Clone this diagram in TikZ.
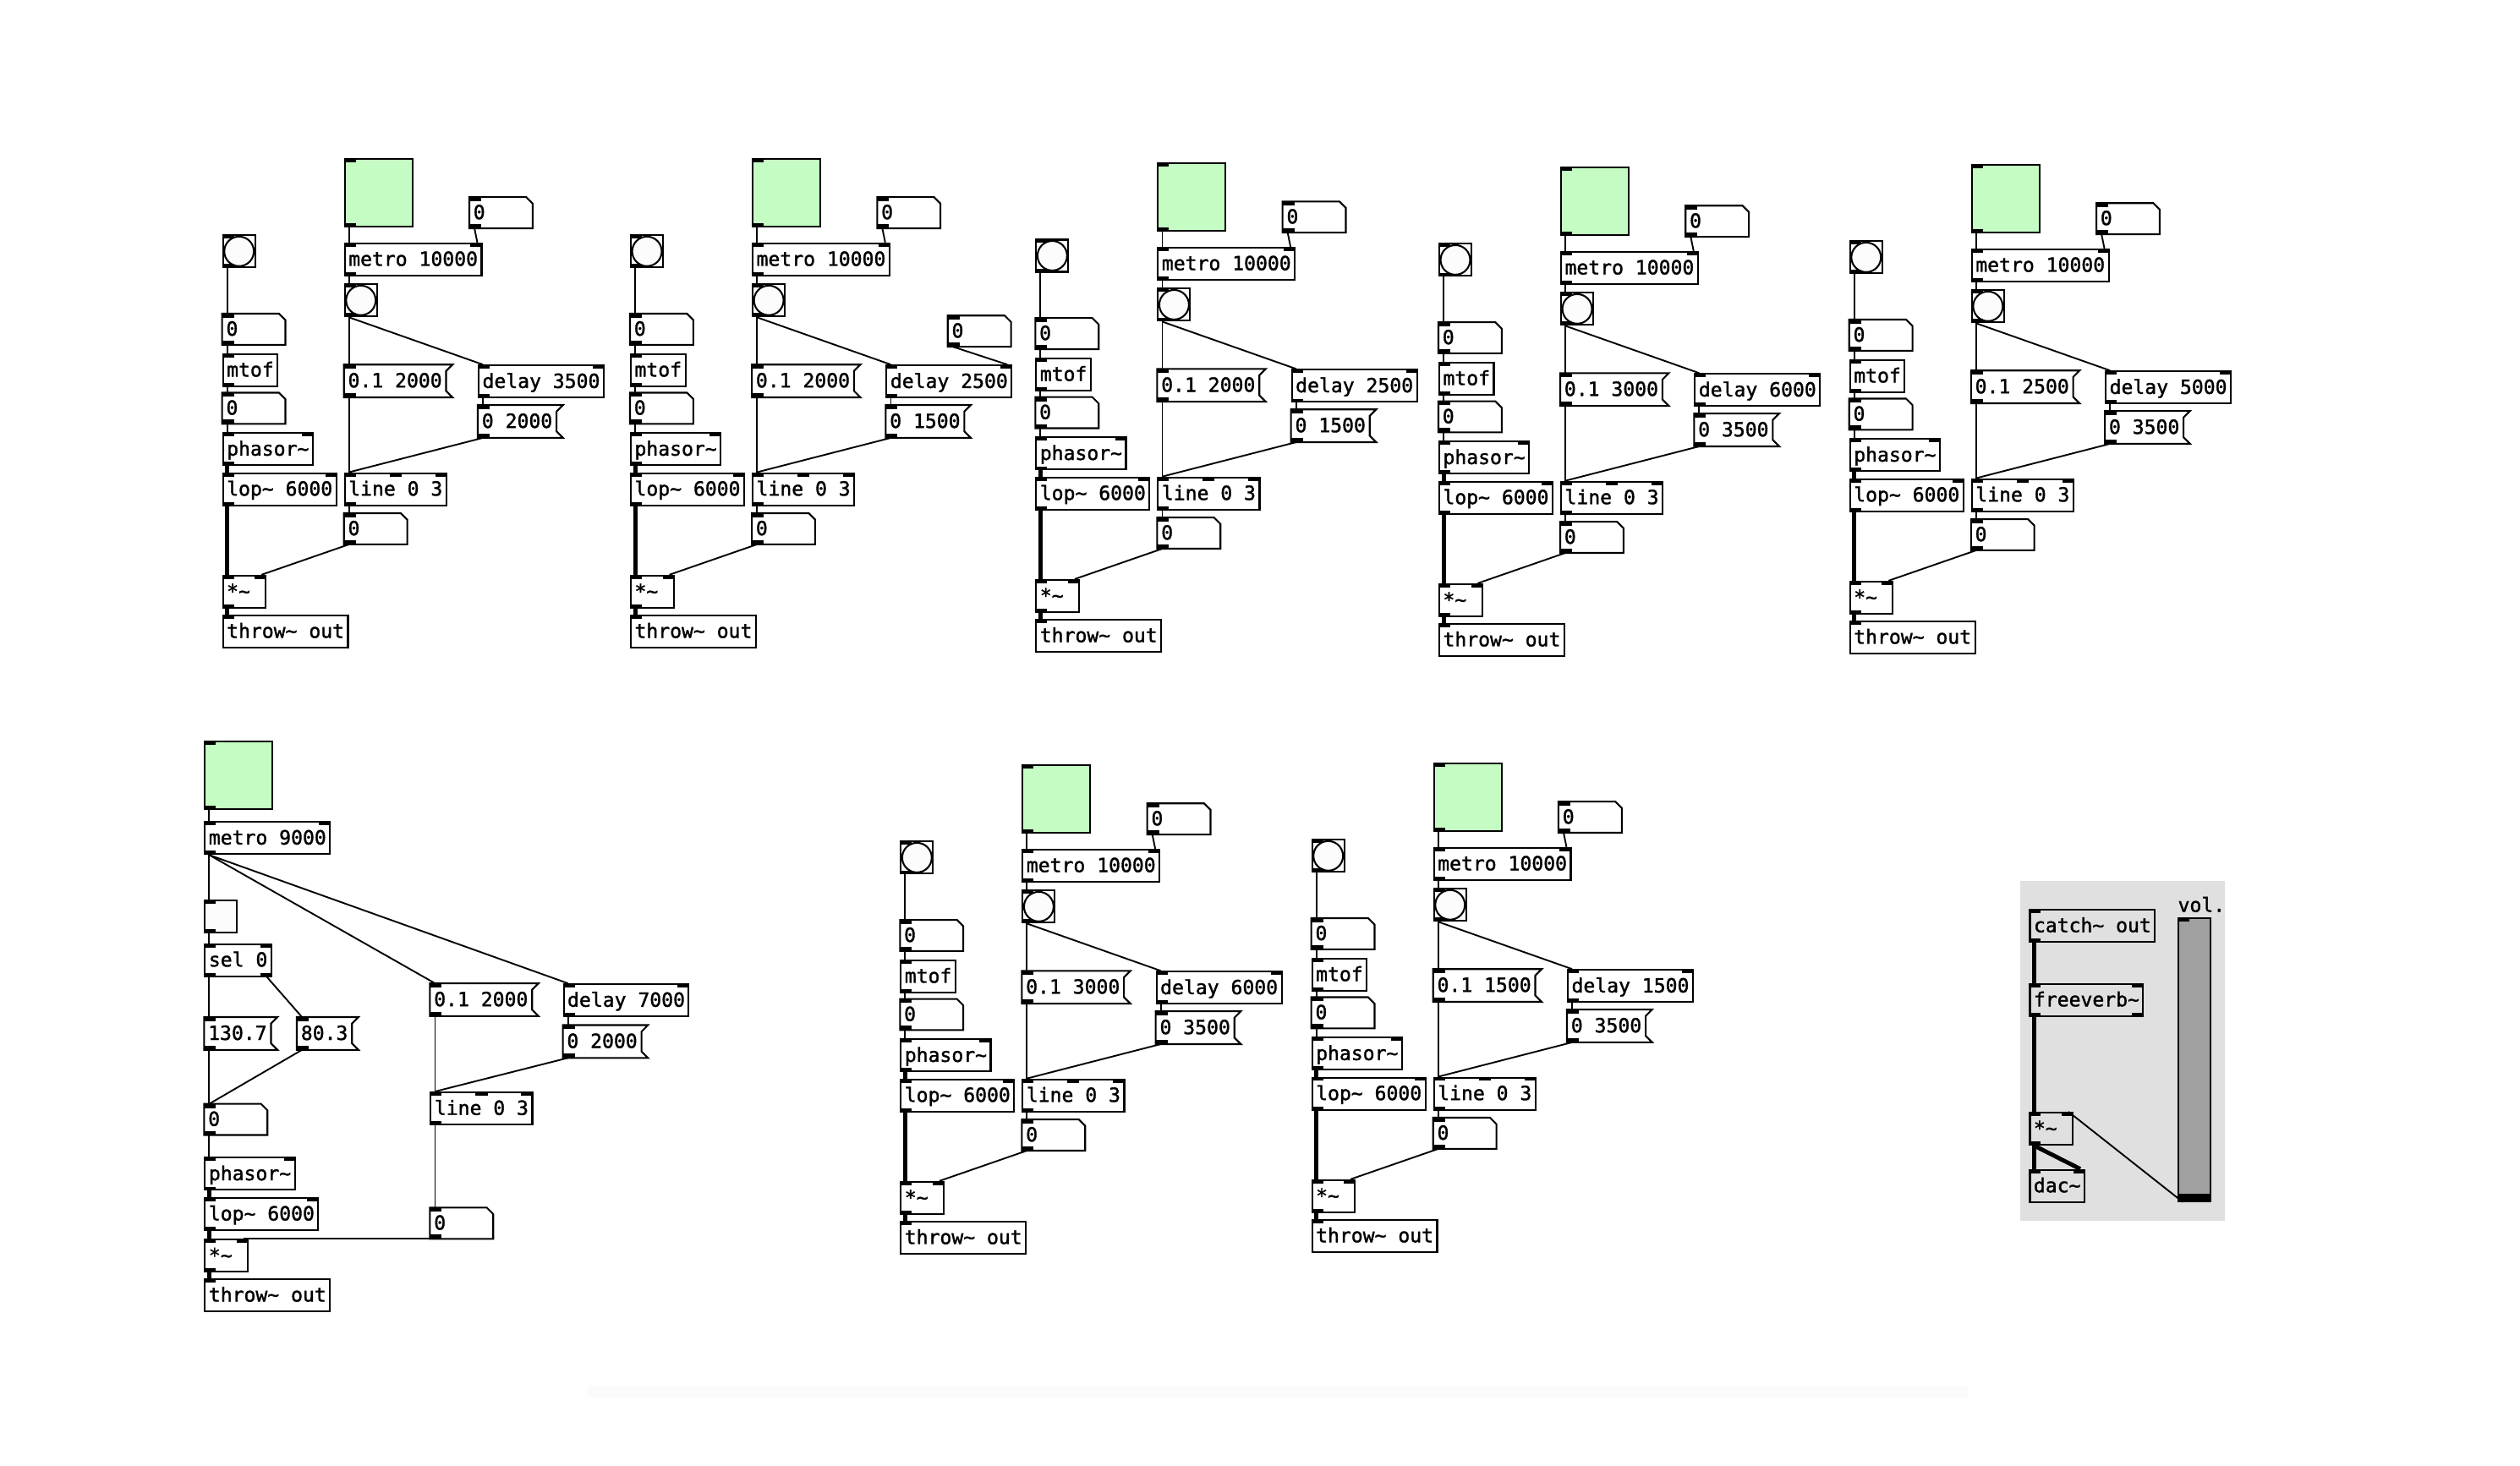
\documentclass[tikz,border=0pt]{standalone}
\usepackage{fontspec}
\newfontfamily\pdfont[FakeBold=1.5]{DejaVu Sans Mono}
\usetikzlibrary{calc}

\definecolor{tglgreen}{RGB}{196,252,196}
\definecolor{bngfill}{RGB}{252,252,252}
\definecolor{cnvgray}{RGB}{224,224,224}
\definecolor{sldgray}{RGB}{160,160,160}

\tikzset{
  box/.style={anchor=north west, inner xsep=2.35pt, inner ysep=0pt, minimum height=20pt,
    text height=10pt, text depth=2pt, font=\pdfont\fontsize{12.14}{14}\selectfont},
  obj/.style={box, draw, line width=1.1pt},
  numbox/.style={box, minimum height=19pt, text height=9.5pt, text depth=1.5pt,
    text width=34.3pt, align=left},
  rim/.style={line width=1.1pt},
  bng/.style={anchor=north west, draw, line width=1.1pt, minimum size=20pt, inner sep=0pt,
    path picture={\draw[line width=1.1pt, fill=bngfill] (path picture bounding box.center) circle (9.2pt);}},
  tgl/.style={anchor=north west, draw, line width=1.1pt, minimum size=42pt, inner sep=0pt},
  wire/.style={line width=1pt},
  sig/.style={line width=2.6pt}
}

\newcommand{\pdtl}{\textasciitilde}
% inlets (#2) and outlets (#3) of node #1
\newcommand{\pdio}[3]{%
  \ifnum#2>0 \fill (#1.north west) rectangle ++(7.4,2.6);\fi
  \ifnum#2>1 \fill (#1.north east) rectangle ++(-7.4,2.6);\fi
  \ifnum#2>2 \fill ([xshift=-3.7pt]#1.north) rectangle ++(7.4,2.6);\fi
  \ifnum#3>0 \fill (#1.south west) rectangle ++(7.4,-2.6);\fi
  \ifnum#3>1 \fill (#1.south east) rectangle ++(-7.4,-2.6);\fi}
\newcommand{\pdobj}[7][]{\node[obj,#1] (#2) at (#3,#4) {#5}; \pdio{#2}{#6}{#7}}
\newcommand{\pdmsg}[4]{%
  \node[box] (#1) at (#2,#3) {#4};
  \draw[rim] (#1.north west) -- ([xshift=4pt]#1.north east) -- ([yshift=-4pt]#1.north east)
    -- ([yshift=4pt]#1.south east) -- ([xshift=4pt]#1.south east) -- (#1.south west) -- cycle;
  \pdio{#1}{1}{1}}
\newcommand{\pdnum}[3]{%
  \node[numbox] (#1) at (#2,#3) {0};
  \draw[rim] (#1.north west) -- ([xshift=-4pt]#1.north east) -- ([yshift=-4pt]#1.north east)
    -- (#1.south east) -- (#1.south west) -- cycle;
  \pdio{#1}{1}{1}}
\newcommand{\pdbng}[3]{\node[bng] (#1) at (#2,#3) {}; \pdio{#1}{1}{1}}
\newcommand{\pdtgl}[4][tglgreen]{\node[tgl, fill=#1] (#2) at (#3,#4) {}; \pdio{#2}{1}{1}}
\newcommand{\pdwire}[3][wire]{\draw[#1] ([xshift=3.2pt]#2.south west) -- ([xshift=3.2pt]#3.north west);}
\newcommand{\pdwirer}[3][wire]{\draw[#1] ([xshift=3.2pt]#2.south west) -- ([xshift=-3.2pt]#3.north east);}

% one voice: name, x, y, ramp message, delay time, release message
\newcommand{\voice}[6]{%
  \begin{scope}[shift={(#2,#3)}]
    \pdbng{#1bng}{0}{0}
    \pdnum{#1n1}{0}{49.3}
    \pdobj{#1mtof}{0}{73.9}{mtof}{1}{1}
    \pdnum{#1n2}{0}{98.5}
    \pdobj{#1phs}{0}{123.1}{phasor\pdtl}{2}{1}
    \pdobj{#1lop}{0}{148}{lop\pdtl{} 6000}{2}{1}
    \pdobj[text width=21.9pt, align=left]{#1mul}{0}{211.8}{*\pdtl}{2}{1}
    \pdobj{#1thr}{0}{236.5}{throw\pdtl{} out}{1}{0}
    \pdtgl{#1tgl}{75.8}{-47.4}
    \pdnum{#1nt}{153.8}{-23.2}
    \pdobj{#1met}{75.8}{5}{metro 10000}{2}{1}
    \pdbng{#1bng2}{75.8}{30.5}
    \pdmsg{#1ma}{75.8}{81}{#4}
    \pdobj{#1del}{159.1}{81}{delay #5}{2}{1}
    \pdmsg{#1mb}{159.1}{106.2}{#6}
    \pdobj{#1lin}{75.8}{148}{line 0 3}{3}{1}
    \pdnum{#1n3}{75.8}{173.5}
  \end{scope}
  \pdwire{#1bng}{#1n1}
  \pdwire{#1n1}{#1mtof}
  \pdwire{#1mtof}{#1n2}
  \pdwire{#1n2}{#1phs}
  \pdwire[sig]{#1phs}{#1lop}
  \pdwire[sig]{#1lop}{#1mul}
  \pdwire[sig]{#1mul}{#1thr}
  \pdwire{#1tgl}{#1met}
  \pdwirer{#1nt}{#1met}
  \pdwire{#1met}{#1bng2}
  \pdwire{#1bng2}{#1ma}
  \pdwire{#1bng2}{#1del}
  \pdwire{#1del}{#1mb}
  \pdwire{#1ma}{#1lin}
  \pdwire{#1mb}{#1lin}
  \pdwire{#1lin}{#1n3}
  \pdwirer{#1n3}{#1mul}}

\begin{document}
\begin{tikzpicture}[x=1pt, y=-1pt]
  \useasboundingbox (0,0) rectangle (1568,912);
  \fill[gray!3, rounded corners=3pt] (365,862) rectangle (1225,870);

  \voice{a}{138.2}{145.9}{0.1 2000}{3500}{0 2000}
  \voice{b}{392.0}{145.9}{0.1 2000}{2500}{0 1500}
  \pdnum{bx}{589.7}{196.4}
  \pdwirer{bx}{bdel}
  \voice{c}{644.2}{148.6}{0.1 2000}{2500}{0 1500}
  \voice{d}{895.0}{151.2}{0.1 3000}{6000}{0 3500}
  \voice{e}{1150.6}{149.6}{0.1 2500}{5000}{0 3500}
  \voice{f}{560.0}{523.2}{0.1 3000}{6000}{0 3500}
  \voice{g}{815.9}{522.1}{0.1 1500}{1500}{0 3500}

  % bass voice
  \pdtgl{tgA}{127}{461}
  \pdobj{metA}{127}{511}{metro 9000}{2}{1}
  \node[tgl, minimum size=20pt, fill=bngfill] (tgB) at (127,560) {};
  \pdio{tgB}{1}{1}
  \pdobj{selA}{127}{587}{sel 0}{2}{2}
  \pdmsg{mHi}{127}{633}{130.7}
  \pdmsg{mLo}{184.7}{633}{80.3}
  \pdnum{nA}{127}{687}
  \pdobj{phsA}{127}{720}{phasor\pdtl}{2}{1}
  \pdobj{lopA}{127}{745}{lop\pdtl{} 6000}{2}{1}
  \pdobj[text width=21.9pt, align=left]{mulA}{127}{771}{*\pdtl}{2}{1}
  \pdobj{thrA}{127}{795.5}{throw\pdtl{} out}{1}{0}
  \pdmsg{maA}{267.5}{612}{0.1 2000}
  \pdobj{delA}{350.2}{612}{delay 7000}{2}{1}
  \pdmsg{mbA}{350.2}{638}{0 2000}
  \pdobj{linA}{267.5}{679.3}{line 0 3}{3}{1}
  \pdnum{n3A}{267.5}{751.6}
  \pdwire{tgA}{metA}
  \pdwire{metA}{tgB}
  \pdwire{metA}{maA}
  \pdwire{metA}{delA}
  \pdwire{tgB}{selA}
  \pdwire{selA}{mHi}
  \draw[wire] ([xshift=-3.2pt]selA.south east) -- ([xshift=3.2pt]mLo.north west);
  \pdwire{mHi}{nA}
  \pdwire{mLo}{nA}
  \pdwire{nA}{phsA}
  \pdwire[sig]{phsA}{lopA}
  \pdwire[sig]{lopA}{mulA}
  \pdwire[sig]{mulA}{thrA}
  \pdwire{delA}{mbA}
  \pdwire{maA}{linA}
  \pdwire{mbA}{linA}
  \pdwire{linA}{n3A}
  \pdwirer{n3A}{mulA}

  % output
  \node[anchor=north west, fill=cnvgray, inner sep=0pt, minimum width=127.2pt, minimum height=211.3pt] (cnv) at (1256.7,548.1) {};
  \pdobj{catch}{1262.5}{565.6}{catch\pdtl{} out}{1}{1}
  \pdobj{verb}{1262.5}{611.8}{freeverb\pdtl}{2}{2}
  \pdobj[text width=21.9pt, align=left]{mulB}{1262.5}{691.9}{*\pdtl}{2}{1}
  \pdobj{dac}{1262.5}{727.5}{dac\pdtl}{2}{0}
  \node[anchor=north west, draw, line width=1.1pt, fill=sldgray, minimum width=20pt, minimum height=176pt, inner sep=0pt] (vol) at (1355,571) {};
  \fill (vol.south west) rectangle ([yshift=5pt]vol.south east);
  \pdio{vol}{1}{0}
  \node[anchor=base west, inner sep=0pt, font=\pdfont\fontsize{12.14}{14}\selectfont] (volname) at ([yshift=3.5pt]vol.north west) {vol.};
  \pdwire[sig]{catch}{verb}
  \pdwire[sig]{verb}{mulB}
  \pdwire[sig]{mulB}{dac}
  \pdwirer[sig]{mulB}{dac}
  \draw[wire] ([xshift=3.2pt]vol.south west) -- ([xshift=-3.2pt]mulB.north east);
\end{tikzpicture}
\end{document}
